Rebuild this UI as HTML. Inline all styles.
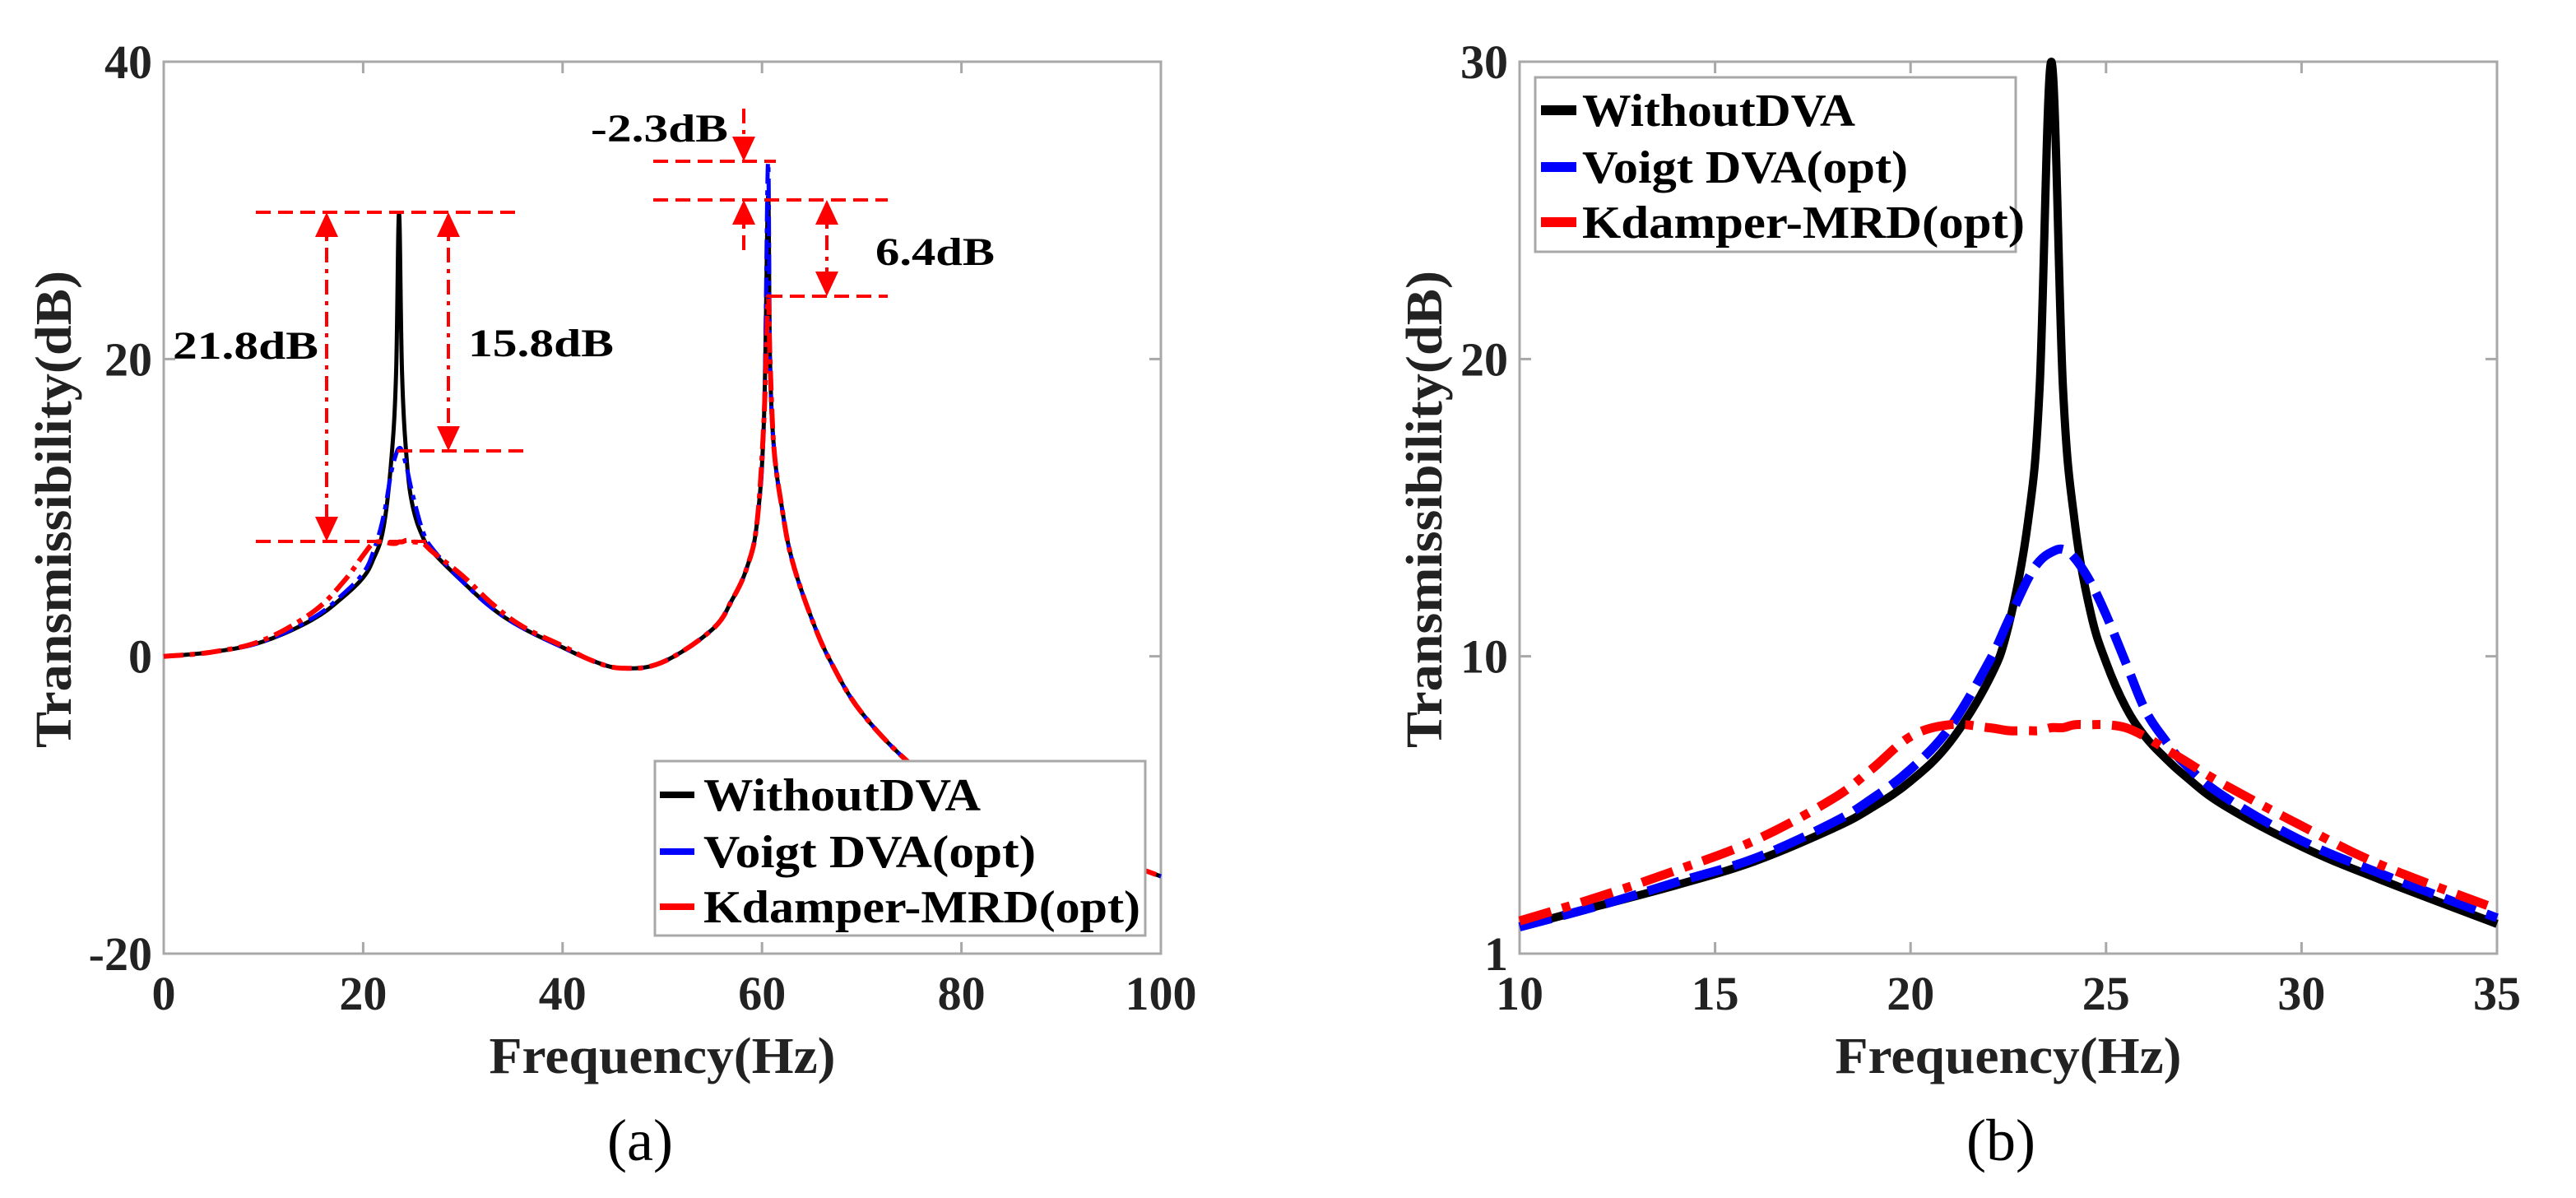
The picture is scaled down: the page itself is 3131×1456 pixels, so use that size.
<!DOCTYPE html>
<html><head><meta charset="utf-8"><style>
html,body{margin:0;padding:0;background:#fff;}
svg text{font-family:"Liberation Serif",serif;}
</style></head><body>
<svg id="fig" width="3131" height="1451" viewBox="0 0 3131 1451" xmlns="http://www.w3.org/2000/svg">
<g id="chartA"></g>
<g id="chartB"></g>
</svg>
<script>
// ---- chart (a) data ----
const freqA = [0,5,10,15,18,20,21,22,22.8,23.3,23.6,23.9,24.4,25,26,27,30,33,36,40,43,46,50,55,57,58.5,59.5,60.2,60.6,60.8,61.2,62,63,65,67,70,75,80,90,100];
const blackA = [0,0.3,1,2.5,4,5.3,6.5,8.5,13,19,29.8,19,13,10,8,7,5,3.2,1.9,0.6,-0.3,-0.8,-0.4,1.8,3.8,6,9,16,30.9,20,14,10,6.5,2.5,-0.5,-3.8,-7.3,-9.5,-12.3,-14.8];
const blueA = [0,0.3,1,2.6,4.2,5.6,7,9.3,12.3,13.6,14,13.8,12.6,10.8,8.4,7.2,5,3.2,1.9,0.6,-0.3,-0.8,-0.4,1.8,3.8,6,9,16,33.2,20,14,10,6.5,2.5,-0.5,-3.8,-7.3,-9.5,-12.3,-14.8];
const redA = [0,0.3,1.1,3,5,6.8,7.6,7.7,7.6,7.6,7.7,7.7,7.8,7.7,7.6,7,5.4,3.5,2.0,0.7,-0.3,-0.8,-0.4,1.8,3.8,6,9,16,24.1,20,14,10,6.5,2.5,-0.5,-3.8,-7.3,-9.5,-12.3,-14.8];
const xTicksA = [0,20,40,60,80,100];
const yTicksA = [-20,0,20,40];
// ---- chart (b) data ----
const freqB = [10,12,14,16,18,19,20,21,22,22.5,23,23.3,23.6,23.9,24.2,24.6,25,25.5,26,26.5,27,28,30,32,35];
const blackB = [0.9,1.6,2.3,3.1,4.2,4.9,5.8,7.1,9.2,11,14.5,19,30,19,14.5,11.5,9.8,8.3,7.3,6.6,6.0,5.0,3.6,2.5,1.0];
const blueB = [0.9,1.6,2.4,3.2,4.4,5.2,6.2,7.6,9.8,11.2,12.6,13.2,13.5,13.6,13.3,12.5,11.4,9.8,8.2,7.2,6.4,5.3,3.8,2.7,1.2];
const redB = [1.1,1.9,2.8,3.8,5.2,6.2,7.3,7.7,7.6,7.5,7.5,7.5,7.6,7.6,7.7,7.7,7.7,7.6,7.3,6.9,6.5,5.7,4.3,3.0,1.5];
const xTicksB = [10,15,20,25,30,35];
const yTicksB = [0,10,20,30];
const yTickLabelsB = ["1","10","20","30"];

const NS = "http://www.w3.org/2000/svg";
function mk(parent, tag, attrs, text){
  const e = document.createElementNS(NS, tag);
  for (const k in attrs) e.setAttribute(k, attrs[k]);
  if (text !== undefined) e.textContent = text;
  parent.appendChild(e);
  return e;
}
function smoothPath(pts){
  let d = 'M' + pts[0][0].toFixed(1) + ',' + pts[0][1].toFixed(1);
  for (let i = 0; i < pts.length - 1; i++){
    const p0 = pts[Math.max(0, i-1)], p1 = pts[i], p2 = pts[i+1], p3 = pts[Math.min(pts.length-1, i+2)];
    const t = 0.18;
    let c1x = p1[0] + (p2[0]-p0[0])*t, c1y = p1[1] + (p2[1]-p0[1])*t;
    let c2x = p2[0] - (p3[0]-p1[0])*t, c2y = p2[1] - (p3[1]-p1[1])*t;
    // keep control x within segment
    c1x = Math.min(Math.max(c1x, p1[0]), p2[0]); c2x = Math.min(Math.max(c2x, p1[0]), p2[0]);
    d += `C${c1x.toFixed(1)},${c1y.toFixed(1)} ${c2x.toFixed(1)},${c2y.toFixed(1)} ${p2[0].toFixed(1)},${p2[1].toFixed(1)}`;
  }
  return d;
}

function drawChart(g, cfg){
  const {x0,x1,y0,y1,xmin,xmax,ymin,ymax} = cfg;
  const sx = v => x0 + (v - xmin) / (xmax - xmin) * (x1 - x0);
  const sy = v => y1 - (v - ymin) / (ymax - ymin) * (y1 - y0);
  const box = mk(g, 'rect', {x:x0, y:y0, width:x1-x0, height:y1-y0, fill:'none', stroke:'#a8a8a8', 'stroke-width':3});
  
  
  cfg.xTicks.forEach(t => {
    const X = sx(t);
    const tk = mk(g, 'path', {d:`M${X},${y1}v-14M${X},${y0}v14`, stroke:'#a8a8a8', 'stroke-width':3});
    
    
    const lb = mk(g, 'text', {x:X, y:1227, 'text-anchor':'middle', 'font-size':58, 'font-weight':'bold', fill:'#222'}, String(t));
    
    
  });
  cfg.yTicks.forEach((t, i) => {
    const Y = sy(t);
    const tk = mk(g, 'path', {d:`M${x0},${Y}h14M${x1},${Y}h-14`, stroke:'#a8a8a8', 'stroke-width':3});
    
    
    const lb = mk(g, 'text', {x:x0 - 14, y:Y + 20, 'text-anchor':'end', 'font-size':58, 'font-weight':'bold', fill:'#222'}, cfg.yLabels ? cfg.yLabels[i] : String(t));
    
    
  });
  cfg.series.forEach(s => {
    const pts = s.ys.map((v, i) => [sx(s.xs[i]), sy(v)]);
    const p = mk(g, 'path', {d:smoothPath(pts), fill:'none', stroke:s.color, 'stroke-width':s.w, 'stroke-linejoin':'round'});
    if (s.dash) p.setAttribute('stroke-dasharray', s.dash);
    
    
  });
  const xt = mk(g, 'text', {x:(x0 + x1) / 2, y:1304, 'text-anchor':'middle', 'font-size':62, 'font-weight':'bold', fill:'#222', textLength:421, lengthAdjust:'spacingAndGlyphs'}, 'Frequency(Hz)');
  
  
  const yt = mk(g, 'text', {x:0, y:0, transform:`translate(${cfg.ylabX},619) rotate(-90)`, 'text-anchor':'middle', 'font-size':62, 'font-weight':'bold', fill:'#222', textLength:580, lengthAdjust:'spacingAndGlyphs'}, 'Transmissibility(dB)');
  
  
  const cap = mk(g, 'text', {x:cfg.capX, y:1410, 'text-anchor':'middle', 'font-size':72, fill:'#000'}, cfg.cap);
  
  
  const L = cfg.legend;
  const lg = mk(g, 'g', {});
  
  
  mk(lg, 'rect', {x:L.x, y:L.y, width:L.w, height:L.h, fill:'#fff', stroke:'#a8a8a8', 'stroke-width':3});
  L.items.forEach(it => {
    const e = mk(lg, 'g', {});
    
    
    mk(e, 'line', {x1:L.lx0, x2:L.lx1, y1:it.y, y2:it.y, stroke:it.color, 'stroke-width':L.lw});
    mk(e, 'text', {x:L.tx, y:it.y + 19, 'font-size':56, 'font-weight':'bold', fill:'#000', textLength:it.len, lengthAdjust:'spacingAndGlyphs'}, it.label);
  });
}

const gA = document.getElementById('chartA');
drawChart(gA, {
  x0:199, x1:1411, y0:75, y1:1159, xmin:0, xmax:100, ymin:-20, ymax:40,
  xTicks:xTicksA, yTicks:yTicksA, ylabX:86, capX:778, cap:'(a)',
  series:[
    {xs:freqA, ys:blackA, color:'#000', w:5, name:'series-without-dva'},
    {xs:freqA, ys:blueA, color:'#0000ff', w:5, dash:'24,8,6,8', name:'series-voigt-dva'},
    {xs:freqA, ys:redA, color:'#ff0000', w:6, dash:'24,8,6,8', name:'series-kdamper-mrd'}
  ],
  legend:{x:796, y:925, w:596, h:212, lx0:802, lx1:844, lw:8, tx:855,
    items:[{y:966,color:'#000',label:'WithoutDVA',len:337},{y:1035,color:'#0000ff',label:'Voigt DVA(opt)',len:404},{y:1102,color:'#ff0000',label:'Kdamper-MRD(opt)',len:531}]}
});

const ann = mk(gA, 'g', {});


const red = '#ff0000';
function hdash(x1, x2, y){ mk(ann, 'line', {x1, x2, y1:y, y2:y, stroke:red, 'stroke-width':4, 'stroke-dasharray':'18,9'}); }
function vdash(x, ya, yb){ mk(ann, 'line', {x1:x, x2:x, y1:ya, y2:yb, stroke:red, 'stroke-width':4, 'stroke-dasharray':'18,8,5,8'}); }
function head(x, y, dir){ mk(ann, 'path', {d:`M${x},${y}L${x-14},${y-dir*30}L${x+14},${y-dir*30}Z`, fill:red}); }
hdash(311, 632, 258); hdash(483, 636, 548); hdash(311, 520, 658);
vdash(397, 262, 654); head(397, 258, -1); head(397, 658, 1);
vdash(545, 262, 544); head(545, 258, -1); head(545, 548, 1);
hdash(794, 943, 196); hdash(794, 1079, 243); hdash(933, 1079, 360);
vdash(904, 132, 192); head(904, 196, 1);
vdash(904, 247, 308); head(904, 243, -1);
vdash(1005, 247, 356); head(1005, 243, -1); head(1005, 360, 1);
[['21.8dB',210,436,177],['15.8dB',569,433,177],['-2.3dB',718,172,167],['6.4dB',1064,322,145]].forEach(a => {
  const t = mk(ann, 'text', {x:a[1], y:a[2], 'font-size':48, 'font-weight':'bold', fill:'#000', textLength:a[3], lengthAdjust:'spacingAndGlyphs'}, a[0]);
  
  
});

const gB = document.getElementById('chartB');
drawChart(gB, {
  x0:1847, x1:3035, y0:75, y1:1159, xmin:10, xmax:35, ymin:0, ymax:30,
  xTicks:xTicksB, yTicks:yTicksB, yLabels:yTickLabelsB, ylabX:1752, capX:2432, cap:'(b)',
  series:[
    {xs:freqB, ys:blackB, color:'#000', w:10, name:'series-without-dva'},
    {xs:freqB, ys:blueB, color:'#0000ff', w:11, dash:'40,14', name:'series-voigt-dva'},
    {xs:freqB, ys:redB, color:'#ff0000', w:11, dash:'40,14,10,14', name:'series-kdamper-mrd'}
  ],
  legend:{x:1866, y:94, w:584, h:212, lx0:1873, lx1:1916, lw:12, tx:1923,
    items:[{y:134,color:'#000',label:'WithoutDVA',len:332},{y:203,color:'#0000ff',label:'Voigt DVA(opt)',len:396},{y:270,color:'#ff0000',label:'Kdamper-MRD(opt)',len:538}]}
});
</script>
</body></html>
